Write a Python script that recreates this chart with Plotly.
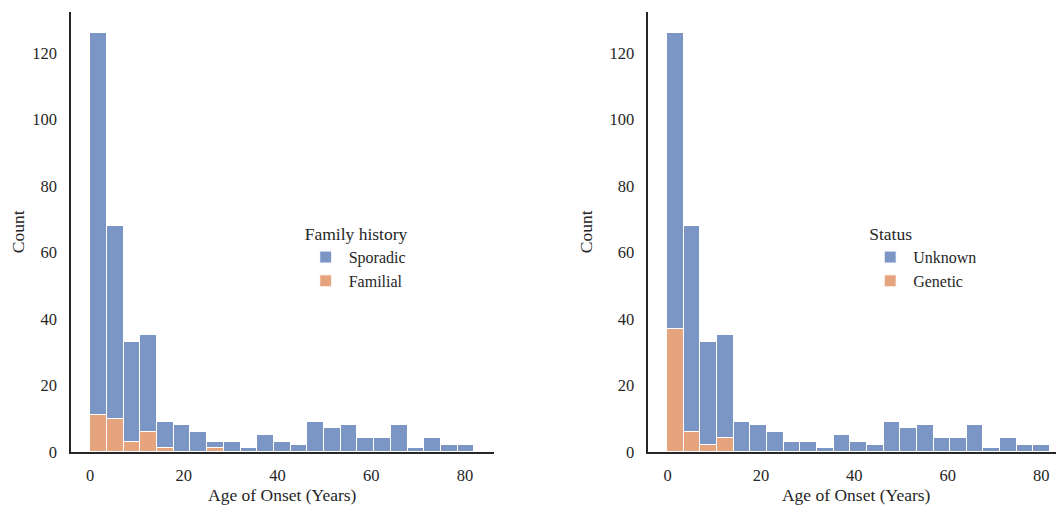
import plotly.graph_objects as go

# Histogram bins (Age of Onset, years)
bin_start = 0.0
bin_end = 82.0
n_bins = 23

# Left panel: Family history
sporadic_familial_total = [126, 68, 33, 35, 9, 8, 6, 3, 3, 1, 5, 3, 2, 9, 7, 8, 4, 4, 8, 1, 4, 2, 2]
familial = [11, 10, 3, 6, 1, 0, 0, 1, 0, 0, 0, 0, 0, 0, 0, 0, 0, 0, 0, 0, 0, 0, 0]
# Right panel: Status
genetic = [37, 6, 2, 4, 0, 0, 0, 0, 0, 0, 0, 0, 0, 0, 0, 0, 0, 0, 0, 0, 0, 0, 0]

xticks = [0, 20, 40, 60, 80]
yticks = [0, 20, 40, 60, 80, 100, 120]

width = (bin_end - bin_start) / n_bins
centers = [bin_start + width * (i + 0.5) for i in range(n_bins)]
sporadic = [t - f for t, f in zip(sporadic_familial_total, familial)]
unknown = [t - g for t, g in zip(sporadic_familial_total, genetic)]

BLUE = "#7B96C5"
ORANGE = "#E5A37E"
FONT = "Liberation Serif"

fig = go.Figure()

def add(y, name, color, xa, ya, leg):
    fig.add_trace(go.Bar(
        x=centers, y=y, width=width, name=name,
        marker=dict(color=color, line=dict(color="white", width=1)),
        xaxis=xa, yaxis=ya, legend=leg,
    ))

add(familial, "Familial", ORANGE, "x", "y", "legend")
add(sporadic, "Sporadic", BLUE, "x", "y", "legend")
add(genetic, "Genetic", ORANGE, "x2", "y2", "legend2")
add(unknown, "Unknown", BLUE, "x2", "y2", "legend2")

W, H = 1064, 505
OFF = 8      # page body margin
SY = 0.983   # observed vertical scale


def py(page_y):
    return 1 - ((page_y - OFF) / SY) / H


ydom = [py(453), py(12)]

axis_common = dict(showgrid=False, zeroline=False, showline=True, linecolor="#262626",
                   linewidth=1.5, tickcolor="rgba(0,0,0,0)",
                   tickfont=dict(family=FONT, size=16.5, color="#262626"),
                   title_font=dict(family=FONT, size=17.5, color="#262626"))

fig.update_layout(
    width=W, height=H, barmode="stack", bargap=0,
    plot_bgcolor="white", paper_bgcolor="white",
    margin=dict(l=0, r=0, t=0, b=0),
    font=dict(family=FONT, color="#262626"),
    xaxis=dict(domain=[(70 - OFF) / W, (493 - OFF) / W], range=[-4.1, 86.1], tickvals=xticks,
               ticks="outside", ticklen=8,
               title=dict(text="Age of Onset (Years)", standoff=2), anchor="y", **axis_common),
    yaxis=dict(domain=ydom, range=[0, 132.3], tickvals=yticks,
               ticks="outside", ticklen=9,
               title=dict(text="Count", standoff=12), anchor="x", **axis_common),
    xaxis2=dict(domain=[(648 - OFF) / W, (1064 - OFF) / W], range=[-4.1, 84.9], tickvals=xticks,
                ticks="outside", ticklen=8,
                title=dict(text="Age of Onset (Years)", standoff=2), anchor="y2", **axis_common),
    yaxis2=dict(domain=ydom, range=[0, 132.3], tickvals=yticks,
                ticks="outside", ticklen=9,
                title=dict(text="Count", standoff=12), anchor="x2", **axis_common),
    legend=dict(x=(302 - OFF) / W, y=py(218), xanchor="left", yanchor="top",
                traceorder="reversed", bgcolor="rgba(0,0,0,0)",
                title=dict(text="Family history", font=dict(family=FONT, size=17.5)),
                font=dict(family=FONT, size=16), itemwidth=36),
    legend2=dict(x=(867 - OFF) / W, y=py(218), xanchor="left", yanchor="top",
                 traceorder="reversed", bgcolor="rgba(0,0,0,0)",
                 title=dict(text="Status", font=dict(family=FONT, size=17.5)),
                 font=dict(family=FONT, size=16), itemwidth=36),
)

fig.write_html("out.html")
